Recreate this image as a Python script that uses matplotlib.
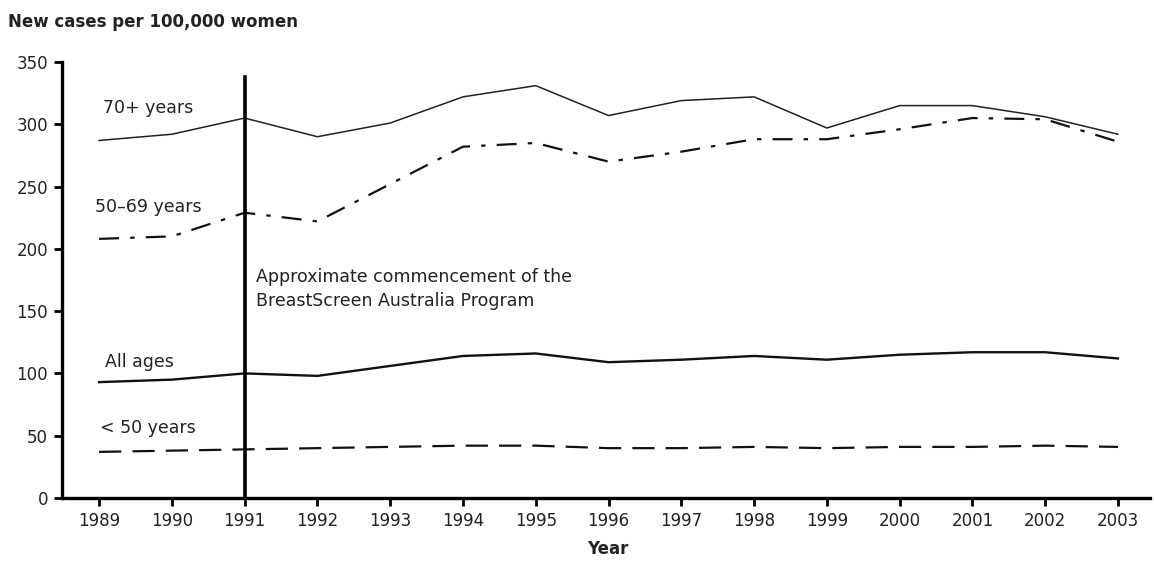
import matplotlib
matplotlib.use('Agg')
import matplotlib.pyplot as plt

years = list(range(1989, 2004))
age_70_plus = [287, 292, 305, 290, 301, 322, 331, 307, 319, 322, 297, 315, 315, 306, 292]
age_50_69 = [208, 210, 229, 222, 252, 282, 285, 270, 278, 288, 288, 296, 305, 304, 286]
all_ages = [93, 95, 100, 98, 106, 114, 116, 109, 111, 114, 111, 115, 117, 117, 112]
under_50 = [37, 38, 39, 40, 41, 42, 42, 40, 40, 41, 40, 41, 41, 42, 41]
yticks = [0, 50, 100, 150, 200, 250, 300, 350]

# wide sans font to get closer to the spaced-out lettering of the original
plt.rcParams['font.family'] = ['DejaVu Sans']

fig = plt.figure(figsize=(11.54, 5.63), dpi=100)
ax = fig.add_axes([0.0537, 0.1155, 0.9428, 0.7744])

ax.plot(years, age_70_plus, color='#222222', lw=1.1)
ax.plot(years, age_50_69, color='#111111', lw=1.6, dashes=(9, 5, 2, 5))
ax.plot(years, all_ages, color='#111111', lw=1.7)
ax.plot(years, under_50, color='#111111', lw=1.6, dashes=(10, 5))

# programme start marker
ax.plot([1991, 1991], [0, 338], color='black', lw=2.6)

ax.set_xlim(1988.49, 2003.44)
ax.set_ylim(0, 350)
ax.set_xticks(years)
ax.set_yticks(yticks)
for s in ['top', 'right']:
    ax.spines[s].set_visible(False)
for s in ['left', 'bottom']:
    ax.spines[s].set_linewidth(2.4)
ax.tick_params(direction='out', length=6, width=2, labelsize=12, colors='black', pad=4)
for lab in ax.get_xticklabels() + ax.get_yticklabels():
    lab.set_color('#222222')

lab_kw = dict(fontsize=12.5, ha='left', va='center', color='#222222')
ax.text(1989.05, 313, '70+ years', **lab_kw)
ax.text(1988.94, 233.5, '50\u201369 years', **lab_kw)
ax.text(1989.08, 109, 'All ages', **lab_kw)
ax.text(1989.01, 56, '< 50 years', **lab_kw)
ax.text(1991.16, 168, 'Approximate commencement of the\nBreastScreen Australia Program',
        linespacing=1.45, **lab_kw)

fig.text(0.007, 0.961, 'New cases per 100,000 women', fontsize=12, fontweight='bold',
         ha='left', va='center', color='#222222')
fig.text(0.527, 0.025, 'Year', fontsize=12, fontweight='bold', ha='center', va='center',
         color='#222222')

fig.savefig('out.png', dpi=100)
